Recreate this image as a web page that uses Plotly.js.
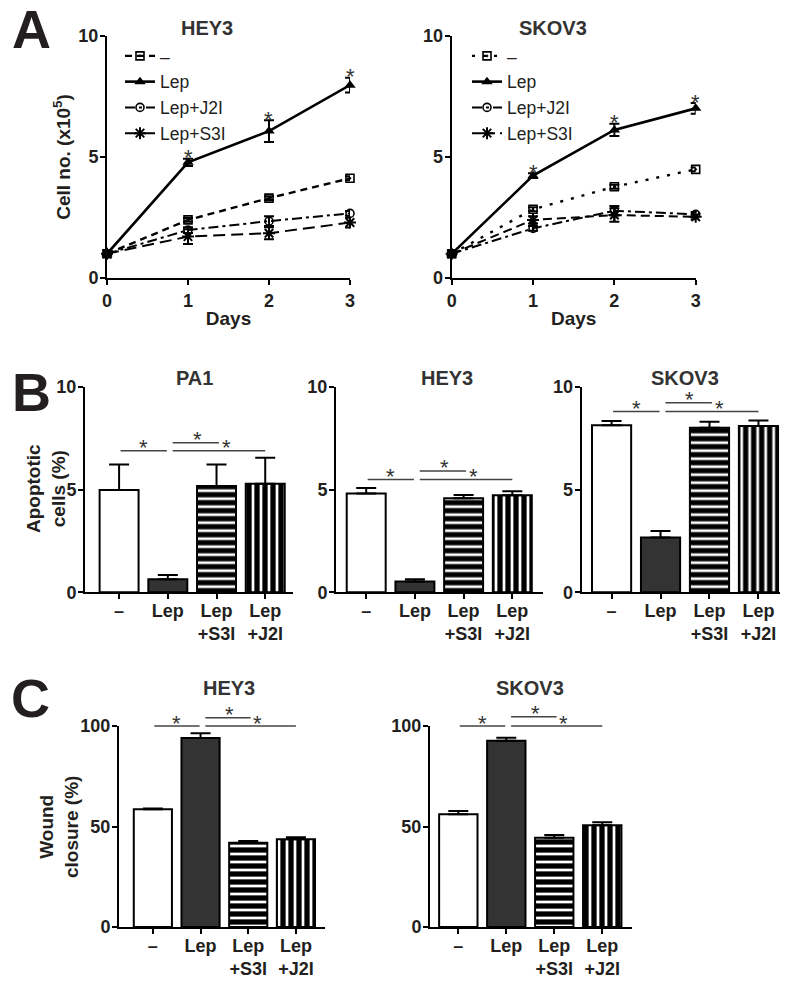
<!DOCTYPE html>
<html><head><meta charset="utf-8">
<script src="https://cdn.plot.ly/plotly-3.0.1.min.js"></script>
<style>body{margin:0;background:#fff}#chart{width:800px;height:985px}</style>
</head><body><div id="chart"></div>
<script>
// ---------- DATA ----------
const days = [0, 1, 2, 3];
const groupNames = ['–', 'Lep', 'Lep+J2I', 'Lep+S3I'];

// Panel A: HEY3 cell number (x10^5)
const hey3Ctrl = [1.0, 2.40, 3.30, 4.12];
const hey3CtrlErr = [0.05, 0.08, 0.08, 0.08];
const hey3Lep = [1.0, 4.78, 6.07, 7.97];
const hey3LepErr = [0.05, 0.15, 0.45, 0.30];
const hey3J2I = [1.0, 1.98, 2.35, 2.67];
const hey3J2IErr = [0.05, 0.12, 0.20, 0.10];
const hey3S3I = [1.0, 1.71, 1.85, 2.29];
const hey3S3IErr = [0.05, 0.30, 0.25, 0.20];

// Panel A: SKOV3 cell number (x10^5)
const skovCtrl = [1.0, 2.84, 3.77, 4.49];
const skovCtrlErr = [0.05, 0.08, 0.08, 0.08];
const skovLep = [1.0, 4.23, 6.12, 7.01];
const skovLepErr = [0.05, 0.10, 0.25, 0.22];
const skovJ2I = [1.0, 2.05, 2.78, 2.63];
const skovJ2IErr = [0.05, 0.10, 0.20, 0.10];
const skovS3I = [1.0, 2.40, 2.60, 2.53];
const skovS3IErr = [0.05, 0.15, 0.28, 0.10];

// Panel B/C categories
const barCats = ['–', 'Lep', 'Lep<br>+S3I', 'Lep<br>+J2I'];

// Panel B: apoptotic cells (%)
const pa1Apop = [4.97, 0.63, 5.17, 5.28];
const pa1ApopErr = [1.25, 0.21, 1.05, 1.26];
const hey3Apop = [4.81, 0.52, 4.57, 4.72];
const hey3ApopErr = [0.26, 0.11, 0.16, 0.20];
const skovApop = [8.13, 2.66, 8.00, 8.09];
const skovApopErr = [0.20, 0.32, 0.30, 0.27];

// Panel C: wound closure (%)
const hey3Wound = [58.6, 94.0, 41.9, 43.6];
const hey3WoundErr = [0.3, 2.4, 0.9, 1.0];
const skovWound = [56.1, 92.7, 44.4, 50.6];
const skovWoundErr = [1.6, 1.5, 1.4, 1.5];

// significance bracket heights [lower, upper] per panel
const sigPA1 = [6.88, 7.27];
const sigHEY3B = [5.49, 5.90];
const sigSKOVB = [8.79, 9.22];
const sigHEY3C = [100.0, 104.1];
const sigSKOVC = [100.0, 104.6];

// ---------- STYLE / LAYOUT HELPERS ----------
const W = 800, H = 985;
const FONT = 'Liberation Sans, Arial, Helvetica, sans-serif';
const TXT = '#231f20';
const px = v => v / W;
const py = v => 1 - v / H;

function axBase(extra) {
  return Object.assign({
    showline: true, linecolor: 'black', linewidth: 2,
    ticks: 'outside', ticklen: 5, tickwidth: 2, tickcolor: 'black',
    showgrid: false, zeroline: false,
    tickfont: {family: FONT, size: 18, color: TXT, weight: 'bold'}
  }, extra);
}

const traces = [];

function lineSet(xa, ya, ctrl, ctrlE, lep, lepE, j2i, j2iE, s3i, s3iE, dashes, legendId) {
  const common = {type: 'scatter', mode: 'lines+markers', x: days, xaxis: xa, yaxis: ya, cliponaxis: false, legend: legendId};
  const eb = arr => ({type: 'data', array: arr, visible: true, color: 'black', thickness: 2, width: 5});
  traces.push(Object.assign({}, common, {name: groupNames[0], y: ctrl, error_y: eb(ctrlE),
    line: {color: 'black', width: 2.4, dash: dashes[0]},
    marker: {symbol: 'square-open-dot', size: 8, color: 'black', line: {width: 1.6, color: 'black'}}}));
  traces.push(Object.assign({}, common, {name: groupNames[1], y: lep, error_y: eb(lepE),
    line: {color: 'black', width: 2.6, dash: 'solid'},
    marker: {symbol: 'triangle-up', size: 10, color: 'black'}}));
  traces.push(Object.assign({}, common, {name: groupNames[2], y: j2i, error_y: eb(j2iE),
    line: {color: 'black', width: 2, dash: dashes[1]},
    marker: {symbol: 'circle-open', size: 8, color: 'black', line: {width: 1.6, color: 'black'}}}));
  traces.push(Object.assign({}, common, {name: groupNames[3], y: s3i, error_y: eb(s3iE),
    line: {color: 'black', width: 2, dash: dashes[2]},
    marker: {symbol: 'asterisk-open', size: 10, color: 'black', line: {width: 2, color: 'black'}}}));
}

lineSet('x', 'y', hey3Ctrl, hey3CtrlErr, hey3Lep, hey3LepErr, hey3J2I, hey3J2IErr, hey3S3I, hey3S3IErr,
  ['7px,5px', '10px,4px,3px,4px', '12px,6px'], 'legend');
lineSet('x2', 'y2', skovCtrl, skovCtrlErr, skovLep, skovLepErr, skovJ2I, skovJ2IErr, skovS3I, skovS3IErr,
  ['3px,8px', '10px,4px,3px,4px', '9px,5px'], 'legend2');

function barSet(xa, ya, vals, errs) {
  traces.push({
    type: 'bar', x: [0, 1, 2, 3], y: vals, xaxis: xa, yaxis: ya, width: 0.8, showlegend: false,
    marker: {
      color: ['white', '#333333', 'black', 'black'],
      line: {color: 'black', width: 2},
      pattern: {shape: ['', '', '-', '|'], fgcolor: 'black', bgcolor: 'white', size: 8, solidity: 0.66, fillmode: 'replace'}
    },
    error_y: {type: 'data', symmetric: false, array: errs, arrayminus: [0, 0, 0, 0], color: 'black', thickness: 2, width: 10}
  });
}
barSet('x3', 'y3', pa1Apop, pa1ApopErr);
barSet('x4', 'y4', hey3Apop, hey3ApopErr);
barSet('x5', 'y5', skovApop, skovApopErr);
barSet('x6', 'y6', hey3Wound, hey3WoundErr);
barSet('x7', 'y7', skovWound, skovWoundErr);

// ---------- AXES ----------
const titleFont = {family: FONT, size: 19, color: TXT, weight: 'bold'};
const yA = [py(278), py(36)];
const yB = [py(592.3), py(386.7)];
const yC = [py(927), py(726)];
const catAxis = (dom, rng) => axBase({domain: [px(dom[0]), px(dom[1])], range: rng, tickvals: [0, 1, 2, 3],
  ticktext: barCats, ticklabelstandoff: -4});

const axes = {
  xaxis: axBase({domain: [px(107), px(350)], range: [0, 3], tickvals: days,
    title: {text: 'Days', font: titleFont, standoff: 2}}),
  yaxis: axBase({domain: yA, range: [0, 10], tickvals: [0, 5, 10], ticklabelstandoff: -2,
    title: {text: 'Cell no. (x10<sup>5</sup>)', font: titleFont, standoff: 3}}),
  xaxis2: axBase({domain: [px(451.7), px(695.7)], range: [0, 3], tickvals: days,
    title: {text: 'Days', font: titleFont, standoff: 2}}),
  yaxis2: axBase({domain: yA, range: [0, 10], tickvals: [0, 5, 10], ticklabelstandoff: -2}),
  xaxis3: catAxis([85, 293], [-0.7, 3.57]),
  yaxis3: axBase({domain: yB, range: [0, 10], tickvals: [0, 5, 10], ticklabelstandoff: -2}),
  xaxis4: catAxis([336, 543], [-0.62, 3.63]),
  yaxis4: axBase({domain: yB, range: [0, 10], tickvals: [0, 5, 10], ticklabelstandoff: -2}),
  xaxis5: catAxis([581.7, 780], [-0.61, 3.44]),
  yaxis5: axBase({domain: yB, range: [0, 10], tickvals: [0, 5, 10], ticklabelstandoff: -2}),
  xaxis6: catAxis([119, 325], [-0.71, 3.61]),
  yaxis6: axBase({domain: yC, range: [0, 100], tickvals: [0, 50, 100], ticklabelstandoff: -2}),
  xaxis7: catAxis([430, 632], [-0.59, 3.62]),
  yaxis7: axBase({domain: yC, range: [0, 100], tickvals: [0, 50, 100], ticklabelstandoff: -2})
};
['', '2', '3', '4', '5', '6', '7'].forEach(n => {
  axes['xaxis' + n].anchor = 'y' + n;
  axes['yaxis' + n].anchor = 'x' + n;
});

// convert data value on an axis to paper fraction (for marks above the axis range)
function toPaper(axKey, v) {
  const a = axes[axKey];
  return a.domain[0] + (v - a.range[0]) / (a.range[1] - a.range[0]) * (a.domain[1] - a.domain[0]);
}

// ---------- SHAPES / ANNOTATIONS ----------
const shapes = [];
const annotations = [];
function star(xPaper, yPaper, yshift) {
  annotations.push({xref: 'paper', yref: 'paper', x: xPaper, y: yPaper, text: '*', showarrow: false,
    xanchor: 'center', yanchor: 'middle', yshift: yshift,
    font: {family: FONT, size: 22, color: '#333'}});
}
function brackets(n, sig) {
  const xk = 'xaxis' + n, yk = 'yaxis' + n;
  const segs = [[0.03, 0.98, sig[0]], [1.1, 2.05, sig[1]], [1.1, 3.0, sig[0]]];
  segs.forEach(s => shapes.push({type: 'line', xref: 'paper', yref: 'paper',
    x0: toPaper(xk, s[0]), x1: toPaper(xk, s[1]), y0: toPaper(yk, s[2]), y1: toPaper(yk, s[2]),
    line: {color: '#444', width: 1.5}}));
  star(toPaper(xk, 0.5), toPaper(yk, sig[0]), 3);
  star(toPaper(xk, 1.6), toPaper(yk, sig[1]), 3);
  star(toPaper(xk, 2.2), toPaper(yk, sig[0]), 3);
}
brackets('3', sigPA1);
brackets('4', sigHEY3B);
brackets('5', sigSKOVB);
brackets('6', sigHEY3C);
brackets('7', sigSKOVC);

// stars over Lep points in panel A
[1, 2, 3].forEach(i => {
  star(toPaper('xaxis', days[i]), toPaper('yaxis', hey3Lep[i] + hey3LepErr[i]), 1);
  star(toPaper('xaxis2', days[i]), toPaper('yaxis2', skovLep[i] + skovLepErr[i]), 1);
});

function label(text, x, y, size, extra) {
  annotations.push(Object.assign({xref: 'paper', yref: 'paper', x: px(x), y: py(y), text, showarrow: false,
    xanchor: 'center', yanchor: 'middle', font: {family: FONT, size, color: TXT, weight: 'bold'}}, extra || {}));
}
const ttl = {family: FONT, size: 20, color: '#333', weight: 'bold'};
label('A', 31, 29, 54);
label('B', 31, 392, 54);
label('C', 30, 698, 54);
label('HEY3', 207, 28, 20, {font: ttl});
label('SKOV3', 553, 28, 20, {font: ttl});
label('PA1', 194, 378, 20, {font: ttl});
label('HEY3', 447, 378, 20, {font: ttl});
label('SKOV3', 685, 378, 20, {font: ttl});
label('HEY3', 229, 688, 20, {font: ttl});
label('SKOV3', 530, 688, 20, {font: ttl});
// y-axis titles for panels B and C (rotated)
label('Apoptotic<br>cells (%)', 46, 489, 19, {textangle: -90, font: titleFont});
label('Wound<br>closure (%)', 59, 827, 19, {textangle: -90, font: titleFont});

const legendBase = {font: {family: FONT, size: 17.5, color: TXT}, bgcolor: 'rgba(0,0,0,0)', borderwidth: 0,
  xanchor: 'left', yanchor: 'top', tracegroupgap: 0, itemwidth: 30};

const layout = Object.assign({
  width: W, height: H, margin: {l: 0, r: 0, t: 0, b: 0},
  paper_bgcolor: 'white', plot_bgcolor: 'white',
  font: {family: FONT, color: TXT},
  showlegend: true,
  legend: Object.assign({}, legendBase, {x: px(120), y: py(38)}),
  legend2: Object.assign({}, legendBase, {x: px(467), y: py(38)}),
  shapes, annotations
}, axes);

Plotly.newPlot('chart', traces, layout, {displayModeBar: false, staticPlot: true});
</script></body></html>
